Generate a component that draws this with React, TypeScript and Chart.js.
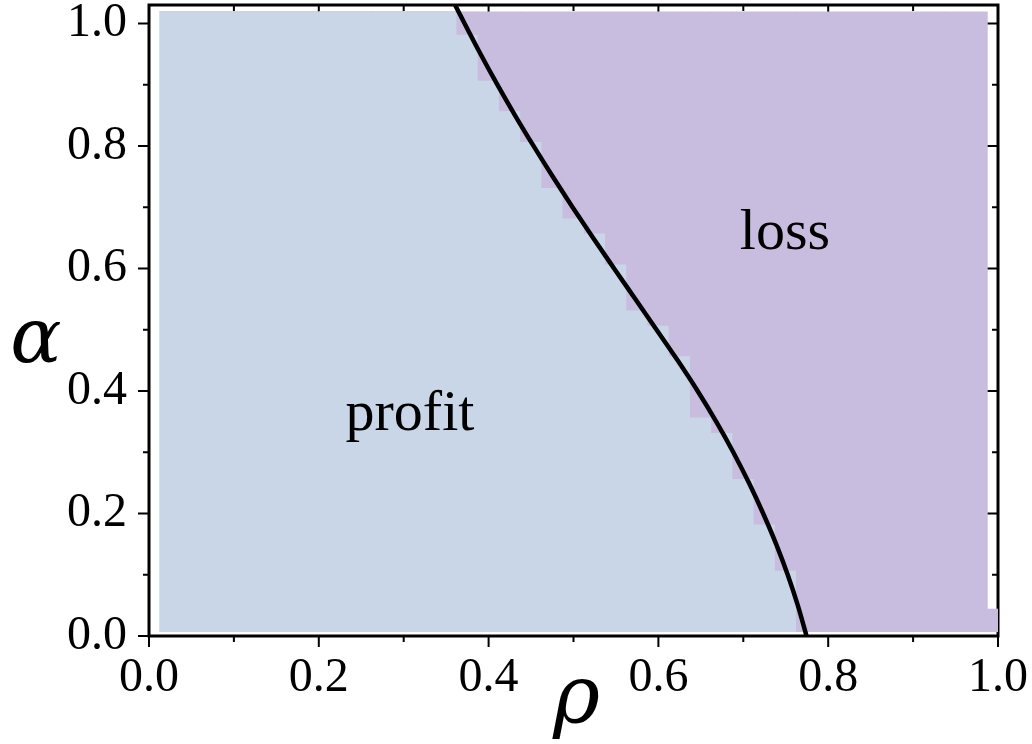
import React, { useEffect, useRef } from "react";
import { Chart, registerables } from "chart.js";

Chart.register(...registerables);

// Heat-map columns (rho cell centres)
const RHO_CELLS = [
  0.025, 0.05, 0.075, 0.1, 0.125, 0.15, 0.175, 0.2, 0.225, 0.25,
  0.275, 0.3, 0.325, 0.35, 0.375, 0.4, 0.425, 0.45, 0.475, 0.5,
  0.525, 0.55, 0.575, 0.6, 0.625, 0.65, 0.675, 0.7, 0.725, 0.75,
  0.775, 0.8, 0.825, 0.85, 0.875, 0.9, 0.925, 0.95, 0.975, 1.0,
];
// alpha where the profit cells end (loss cells begin) in each column
const PROFIT_TOP = [
  1.019, 1.019, 1.019, 1.019, 1.019, 1.019, 1.019, 1.019, 1.019, 1.019,
  1.019, 1.019, 1.019, 1.019, 0.982, 0.907, 0.857, 0.807, 0.732, 0.682,
  0.657, 0.607, 0.532, 0.507, 0.457, 0.357, 0.332, 0.257, 0.182, 0.107,
  0.007, 0.007, 0.007, 0.007, 0.007, 0.007, 0.007, 0.007, 0.007, 0.007,
];
// alpha where the loss cells end in each column
const LOSS_TOP = [
  1.019, 1.019, 1.019, 1.019, 1.019, 1.019, 1.019, 1.019, 1.019, 1.019,
  1.019, 1.019, 1.019, 1.019, 1.019, 1.019, 1.019, 1.019, 1.019, 1.019,
  1.019, 1.019, 1.019, 1.019, 1.019, 1.019, 1.019, 1.019, 1.019, 1.019,
  1.019, 1.019, 1.019, 1.019, 1.019, 1.019, 1.019, 1.019, 1.019, 0.044,
];
const GRID_BOTTOM = 0.007;

// Boundary curve
const CURVE_RHO = [
  0.3605, 0.3905, 0.4103, 0.4311, 0.4529, 0.4755, 0.4989, 0.523, 0.5478, 0.5728, 0.5978,
  0.6226, 0.6462, 0.6681, 0.6882, 0.7066, 0.7234, 0.7387, 0.7523, 0.7642, 0.7745,
];
const CURVE_ALPHA = [
  1.03, 0.95, 0.9, 0.85, 0.8, 0.75, 0.7, 0.65, 0.6, 0.55, 0.5,
  0.45, 0.4, 0.35, 0.3, 0.25, 0.2, 0.15, 0.1, 0.05, 0.0,
];

// Axis ticks
const MAJOR_TICKS = [0, 0.2, 0.4, 0.6, 0.8, 1.0];
const MINOR_TICKS = [0.1, 0.3, 0.5, 0.7, 0.9];

// Region labels
const REGION_LABELS = ["profit", "loss"];
const REGION_RHO = [0.3074, 0.749];
const REGION_ALPHA = [0.336, 0.6316];

const PROFIT_COLOR = "#c9d6e8";
const LOSS_COLOR = "#c8bddf";
const SERIF = "'Liberation Serif', 'Times New Roman', serif";
const MATH = "'DejaVu Serif', serif";

export default function App() {
  const canvasRef = useRef<HTMLCanvasElement>(null);

  useEffect(() => {
    const canvas = canvasRef.current;
    if (!canvas) return;

    const framePlugin = {
      id: "frame",
      beforeDatasetsDraw(chart: any) {
        const { ctx, chartArea: a, scales } = chart;
        const xs = scales.x;
        const ys = scales.y;
        ctx.save();
        ctx.strokeStyle = "#000";
        ctx.lineWidth = 3;
        ctx.strokeRect(a.left, a.top, a.right - a.left, a.bottom - a.top);
        ctx.lineWidth = 2;
        ctx.beginPath();
        const all = [
          ...MAJOR_TICKS.map((v) => ({ v, len: 11 })),
          ...MINOR_TICKS.map((v) => ({ v, len: 6 })),
        ];
        for (const t of all) {
          const px = xs.getPixelForValue(t.v);
          ctx.moveTo(px, a.bottom);
          ctx.lineTo(px, a.bottom + t.len);
          ctx.moveTo(px, a.top);
          ctx.lineTo(px, a.top + t.len);
          const py = ys.getPixelForValue(t.v);
          ctx.moveTo(a.left - t.len, py);
          ctx.lineTo(a.left, py);
          ctx.moveTo(a.right, py);
          ctx.lineTo(a.right - t.len, py);
        }
        ctx.stroke();
        ctx.restore();
      },
      afterDatasetsDraw(chart: any) {
        const { ctx, chartArea: a, scales } = chart;
        const xs = scales.x;
        const ys = scales.y;
        ctx.save();
        ctx.fillStyle = "#000";
        ctx.textAlign = "center";
        ctx.textBaseline = "alphabetic";
        ctx.font = `58px ${SERIF}`;
        REGION_LABELS.forEach((t, i) => {
          ctx.fillText(t, xs.getPixelForValue(REGION_RHO[i]), ys.getPixelForValue(REGION_ALPHA[i]));
        });
        ctx.font = `italic 76px ${MATH}`;
        ctx.fillText("α", a.left - 113, (a.top + a.bottom) / 2 + 41);
        ctx.font = `italic 80px ${MATH}`;
        ctx.fillText("ρ", (a.left + a.right) / 2 + 3, a.bottom + 86);
        ctx.restore();
      },
    };

    const tickFont = { family: SERIF, size: 48 };

    const chart = new Chart(canvas, {
      type: "bar",
      data: {
        datasets: [
          {
            type: "line",
            data: CURVE_RHO.map((r, i) => ({ x: r, y: CURVE_ALPHA[i] })),
            borderColor: "#000",
            borderWidth: 4.5,
            pointRadius: 0,
            cubicInterpolationMode: "monotone",
            fill: false,
            order: 0,
            clip: 0,
          } as any,
          {
            type: "bar",
            data: RHO_CELLS.map((r, i) => ({ x: r, y: [PROFIT_TOP[i], LOSS_TOP[i]] })),
            backgroundColor: LOSS_COLOR,
            borderWidth: 0,
            grouped: false,
            barPercentage: 1,
            categoryPercentage: 1,
            order: 1,
            clip: 0,
          } as any,
          {
            type: "bar",
            data: RHO_CELLS.map((r, i) => ({ x: r, y: [GRID_BOTTOM, PROFIT_TOP[i]] })),
            backgroundColor: PROFIT_COLOR,
            borderWidth: 0,
            grouped: false,
            barPercentage: 1,
            categoryPercentage: 1,
            order: 2,
            clip: 0,
          } as any,
        ],
      },
      options: {
        responsive: false,
        animation: false,
        events: [],
        layout: { padding: { top: 5, right: 34, left: 0, bottom: 0 } },
        plugins: { legend: { display: false }, tooltip: { enabled: false } },
        scales: {
          x: {
            type: "linear",
            min: 0,
            max: 1,
            offset: false,
            grid: { display: false, drawTicks: false },
            border: { display: false },
            ticks: {
              stepSize: 0.2,
              includeBounds: false,
              autoSkip: false,
              maxRotation: 0,
              padding: 14,
              color: "#000",
              font: tickFont,
              callback: (v: any) => Number(v).toFixed(1),
            },
            afterFit: (s: any) => {
              s.height = 108;
              s.paddingLeft = 0;
              s.paddingRight = 0;
            },
          },
          y: {
            type: "linear",
            min: 0,
            max: 1.03,
            grid: { display: false, drawTicks: false },
            border: { display: false },
            ticks: {
              stepSize: 0.2,
              includeBounds: false,
              autoSkip: false,
              padding: 22,
              color: "#000",
              font: tickFont,
              callback: (v: any) => Number(v).toFixed(1),
            },
            afterFit: (s: any) => {
              s.width = 149;
              s.paddingTop = 0;
              s.paddingBottom = 0;
            },
          },
        },
      } as any,
      plugins: [framePlugin],
    });

    return () => chart.destroy();
  }, []);

  return (
    <div style={{ position: "absolute", left: 0, top: 0, width: 1032, height: 744, background: "#fff" }}>
      <canvas ref={canvasRef} width={1032} height={744} style={{ display: "block" }} />
    </div>
  );
}
